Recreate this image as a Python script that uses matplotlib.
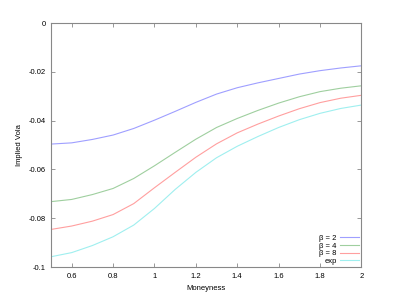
import matplotlib
matplotlib.use("Agg")
import matplotlib.pyplot as plt
from matplotlib.ticker import FormatStrFormatter

# Moneyness grid and implied vola curves
moneyness = [0.5, 0.6, 0.7, 0.8, 0.9, 1.0, 1.1, 1.2, 1.3, 1.4, 1.5, 1.6, 1.7, 1.8, 1.9, 2.0]
beta2 = [-0.0496, -0.0491, -0.0477, -0.0459, -0.0432, -0.0398, -0.0362, -0.0325, -0.0291, -0.0265,
         -0.0245, -0.0227, -0.0209, -0.0195, -0.0184, -0.0175]
beta4 = [-0.0732, -0.0723, -0.0703, -0.0678, -0.0637, -0.0585, -0.0530, -0.0476, -0.0428, -0.0391,
         -0.0358, -0.0328, -0.0302, -0.0281, -0.0267, -0.0257]
beta8 = [-0.0846, -0.0832, -0.0812, -0.0785, -0.0740, -0.0675, -0.0612, -0.0550, -0.0495, -0.0450,
         -0.0414, -0.0381, -0.0351, -0.0326, -0.0308, -0.0296]
expo = [-0.0958, -0.0941, -0.0912, -0.0876, -0.0828, -0.0760, -0.0682, -0.0612, -0.0552, -0.0505,
        -0.0465, -0.0428, -0.0396, -0.0370, -0.0350, -0.0336]
labels = ["β = 2", "β = 4", "β = 8", "exp"]
colors = ["#9f9fff", "#9fcf9f", "#ff9f9f", "#9fefef"]

plt.rcParams['font.family'] = ['Liberation Sans', 'DejaVu Sans']
fig = plt.figure(figsize=(4, 3), dpi=100)
ax = fig.add_axes([0.1275, 0.11, 0.776, 0.813])

for ys, lab, c in zip([beta2, beta4, beta8, expo], labels, colors):
    ax.plot(moneyness, ys, color=c, lw=0.8, label=lab)

ax.set_xlim(0.5, 2)
ax.set_ylim(-0.1, 0)
ax.set_xticks([0.6, 0.8, 1, 1.2, 1.4, 1.6, 1.8, 2])
ax.set_yticks([-0.1, -0.08, -0.06, -0.04, -0.02, 0])
ax.xaxis.set_major_formatter(FormatStrFormatter('%g'))
ax.yaxis.set_major_formatter(FormatStrFormatter('%g'))
ax.tick_params(direction='in', top=True, right=True, length=3, width=0.6,
               color='#888888', labelsize=5.5, pad=4)
for s in ax.spines.values():
    s.set_color('#888888')
    s.set_linewidth(0.8)

ax.set_xlabel('Moneyness', fontsize=5.5, labelpad=4)
ax.set_ylabel('Implied Vola', fontsize=5.5, labelpad=4)

leg = ax.legend(loc='lower right', fontsize=5.5, frameon=False, markerfirst=False,
                handlelength=2.5, labelspacing=0.05, handletextpad=0.5,
                borderaxespad=0.0, borderpad=0.25)

plt.savefig('out.png', dpi=100)
